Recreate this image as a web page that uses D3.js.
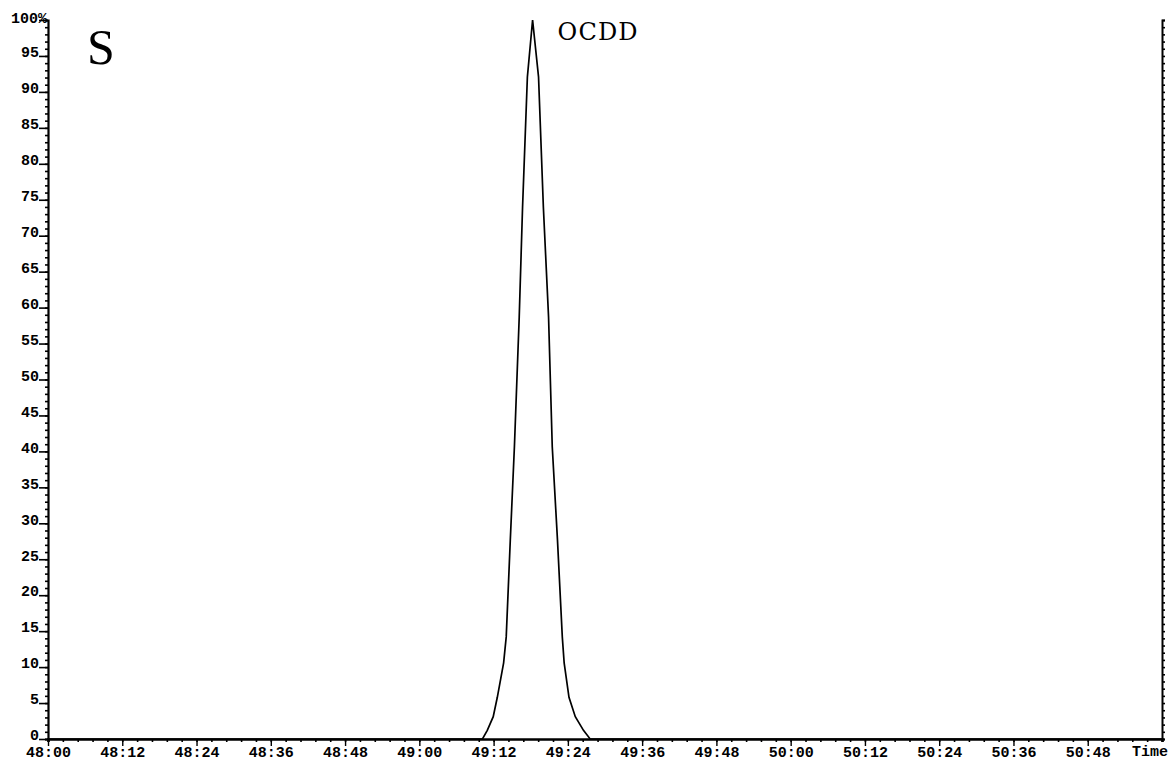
<!DOCTYPE html>
<html>
<head>
<meta charset="utf-8">
<script src="https://cdn.jsdelivr.net/npm/d3@7"></script>
<style>
  html, body { margin: 0; padding: 0; background: #fff; }
  svg { display: block; }
  .ax text { font-family: "Liberation Mono", "DejaVu Sans Mono", monospace; font-weight: bold; font-size: 15px; fill: #000; }
  .ax path, .ax line { stroke: #000; }
</style>
</head>
<body>
<svg id="chart" width="1168" height="764"></svg>
<script>
// ---- data (retention time in minutes, relative abundance %) ----
const peakTimes = [48.0, 49.170, 49.183, 49.199, 49.210, 49.227, 49.234, 49.245, 49.256, 49.269, 49.278, 49.291,
                   49.305,
                   49.321, 49.334, 49.348, 49.358, 49.372, 49.385, 49.390, 49.403, 49.420, 49.442, 49.460, 51.0];
const peakIntensity = [0, 0, 1.2, 3.1, 5.8, 10.6, 14.2, 27.7, 40.6, 58.7, 74.0, 92.1,
                       100,
                       92.1, 74.0, 58.7, 40.6, 27.7, 14.2, 10.6, 5.8, 3.1, 1.2, 0, 0];
const xTickValues = [48.0, 48.2, 48.4, 48.6, 48.8, 49.0, 49.2, 49.4, 49.6, 49.8, 50.0, 50.2, 50.4, 50.6, 50.8];
const xTickLabels = ["48:00", "48:12", "48:24", "48:36", "48:48", "49:00", "49:12", "49:24", "49:36", "49:48",
                     "50:00", "50:12", "50:24", "50:36", "50:48"];
const xAxisTitle = "Time";
const yTickValues = [0, 5, 10, 15, 20, 25, 30, 35, 40, 45, 50, 55, 60, 65, 70, 75, 80, 85, 90, 95, 100];
const yTickLabels = ["0", "5", "10", "15", "20", "25", "30", "35", "40", "45", "50", "55", "60", "65", "70", "75",
                     "80", "85", "90", "95", "100%"];
const panelLabel = "S";
const peakLabel = "OCDD";

// ---- layout ----
const svg = d3.select("#chart");
const x = d3.scaleLinear().domain([48, 51]).range([48, 1162]);
const y = d3.scaleLinear().domain([0, 100]).range([739, 20]);

// minor ticks
const yMinor = d3.range(0, 101, 1);
const xMinor = d3.range(0, 76).map(i => 48 + i * 0.04);

// left axis minor
svg.append("g").attr("class", "ax").attr("transform", `translate(${x(48)},0)`)
  .call(d3.axisLeft(y).tickValues(yMinor).tickSize(3).tickFormat(""))
  .call(g => g.select(".domain").attr("stroke-width", 2.2))
  .call(g => g.selectAll(".tick line").attr("stroke-width", 1.6));

// left axis major with labels (baseline on tick)
svg.append("g").attr("class", "ax").attr("transform", `translate(${x(48)},0)`)
  .call(d3.axisLeft(y).tickValues(yTickValues).tickSize(9).tickPadding(0)
        .tickFormat((d, i) => yTickLabels[i]))
  .call(g => g.select(".domain").remove())
  .call(g => g.selectAll(".tick line").attr("stroke-width", 1.6))
  .call(g => g.selectAll(".tick text").attr("dy", "0.05em"))
  .call(g => {
    const t = g.selectAll(".tick text").filter((d) => d === 100);
    t.attr("text-anchor", "start").attr("x", -37).attr("dy", "0.15em").attr("textLength", 36);
  });

// right axis
svg.append("g").attr("class", "ax").attr("transform", `translate(${x(51)},0)`)
  .call(d3.axisRight(y).tickValues(yMinor).tickSize(3).tickFormat(""))
  .call(g => g.select(".domain").attr("stroke-width", 2))
  .call(g => g.selectAll(".tick line").attr("stroke-width", 1.6));

// bottom axis minor
svg.append("g").attr("class", "ax").attr("transform", `translate(0,${y(0)})`)
  .call(d3.axisBottom(x).tickValues(xMinor).tickSize(3).tickFormat(""))
  .call(g => g.select(".domain").attr("stroke-width", 2.6))
  .call(g => g.selectAll(".tick line").attr("stroke-width", 1.6));

// bottom axis major with labels
svg.append("g").attr("class", "ax").attr("transform", `translate(0,${y(0)})`)
  .call(d3.axisBottom(x).tickValues(xTickValues).tickSize(7)
        .tickFormat((d, i) => xTickLabels[i]))
  .call(g => g.select(".domain").remove())
  .call(g => g.selectAll(".tick line").attr("stroke-width", 1.4))
  .call(g => g.selectAll(".tick text").attr("y", 18).attr("dy", "0"));

// axis title "Time"
svg.append("text")
  .attr("x", 1168).attr("y", y(0) + 17)
  .attr("text-anchor", "end")
  .style("font-family", "'Liberation Mono', monospace").style("font-weight", "bold").style("font-size", "15px")
  .text(xAxisTitle);

// trace
const line = d3.line().x((d, i) => x(peakTimes[i])).y(d => y(d)).curve(d3.curveLinear);
svg.append("path")
  .datum(peakIntensity)
  .attr("d", line)
  .attr("fill", "none")
  .attr("stroke", "#000")
  .attr("stroke-width", 1.7)
  .attr("stroke-linejoin", "miter");

// labels
svg.append("text")
  .attr("x", 87).attr("y", 64)
  .style("font-family", "'Liberation Serif', serif").style("font-size", "50px")
  .text(panelLabel);

svg.append("text")
  .attr("x", x(49.305) + 25).attr("y", 40)
  .style("font-family", "'DejaVu Serif', serif").style("font-size", "24px")
  .attr("textLength", 80)
  .text(peakLabel);
</script>
</body>
</html>
